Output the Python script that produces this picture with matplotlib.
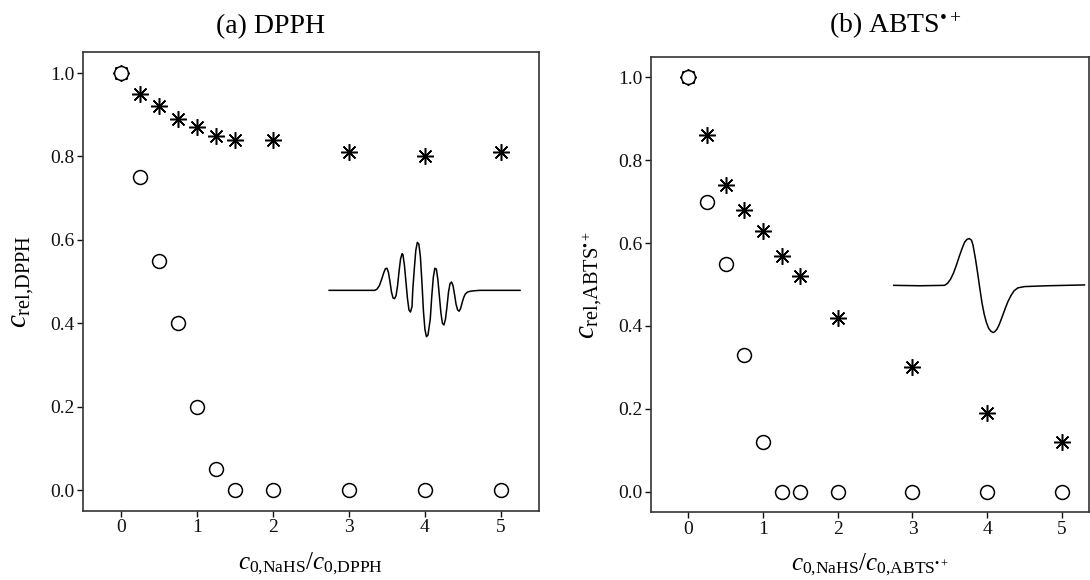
import matplotlib
matplotlib.use('Agg')
import matplotlib.pyplot as plt

plt.rcParams['font.family'] = ['Liberation Serif', 'DejaVu Serif']
plt.rcParams['mathtext.fontset'] = 'custom'
plt.rcParams['mathtext.rm'] = 'Liberation Serif'
plt.rcParams['mathtext.it'] = 'Liberation Serif:italic'
plt.rcParams['mathtext.bf'] = 'Liberation Serif:bold'

# (a) DPPH
dpph_circ_x = [0, 0.25, 0.5, 0.75, 1, 1.25, 1.5, 2, 3, 4, 5]
dpph_circ_y = [1.00, 0.75, 0.55, 0.40, 0.20, 0.05, 0.0, 0.0, 0.0, 0.0, 0.0]
dpph_star_x = [0, 0.25, 0.5, 0.75, 1, 1.25, 1.5, 2, 3, 4, 5]
dpph_star_y = [1.00, 0.95, 0.92, 0.89, 0.87, 0.85, 0.84, 0.84, 0.81, 0.80, 0.81]

# EPR spectrum inset (a) in data units
dpph_epr_x = [2.74, 3.34, 3.37, 3.40, 3.43, 3.46, 3.48, 3.50, 3.52, 3.54, 3.56, 3.58, 3.60, 3.62,
              3.64, 3.66, 3.68, 3.70, 3.71, 3.73, 3.75, 3.77, 3.79, 3.81, 3.83, 3.84, 3.86,
              3.88, 3.90, 3.92, 3.94, 3.96, 3.98, 4.00, 4.02, 4.04, 4.07, 4.09, 4.11, 4.13,
              4.15, 4.17, 4.19, 4.21, 4.23, 4.25, 4.27, 4.29, 4.31, 4.33, 4.35, 4.37, 4.39,
              4.41, 4.43, 4.45, 4.47, 4.49, 4.51, 4.53, 4.56, 4.60, 4.65, 4.72, 5.25]
dpph_epr_y = [0.479, 0.479, 0.482, 0.490, 0.505, 0.522, 0.531, 0.532, 0.522, 0.500, 0.475, 0.461, 0.459, 0.466,
              0.490, 0.525, 0.555, 0.567, 0.565, 0.540, 0.500, 0.460, 0.432, 0.427, 0.440, 0.480, 0.530,
              0.575, 0.594, 0.590, 0.560, 0.500, 0.430, 0.385, 0.368, 0.372, 0.410, 0.465, 0.510, 0.532,
              0.530, 0.505, 0.465, 0.425, 0.400, 0.396, 0.410, 0.440, 0.475, 0.495, 0.499, 0.490, 0.468,
              0.445, 0.432, 0.429, 0.436, 0.450, 0.462, 0.470, 0.475, 0.477, 0.478, 0.479, 0.479]

# (b) ABTS
abts_circ_x = [0, 0.25, 0.5, 0.75, 1, 1.25, 1.5, 2, 3, 4, 5]
abts_circ_y = [1.00, 0.70, 0.55, 0.33, 0.12, 0.0, 0.0, 0.0, 0.0, 0.0, 0.0]
abts_star_x = [0, 0.25, 0.5, 0.75, 1, 1.25, 1.5, 2, 3, 4, 5]
abts_star_y = [1.00, 0.86, 0.74, 0.68, 0.63, 0.57, 0.52, 0.42, 0.30, 0.19, 0.12]

abts_epr_x = [2.75, 3.10, 3.43, 3.47, 3.51, 3.55, 3.59, 3.63, 3.67, 3.70, 3.73, 3.76, 3.79, 3.81,
              3.84, 3.87, 3.90, 3.93, 3.96, 3.99, 4.02, 4.05, 4.08, 4.10, 4.13, 4.16, 4.20,
              4.24, 4.28, 4.32, 4.36, 4.41, 4.50, 4.80, 5.30]
abts_epr_y = [0.498, 0.497, 0.498, 0.503, 0.513, 0.528, 0.548, 0.570, 0.590, 0.603, 0.609, 0.611, 0.607, 0.595,
              0.565, 0.530, 0.492, 0.456, 0.428, 0.408, 0.394, 0.387, 0.384, 0.386, 0.392, 0.403, 0.422,
              0.442, 0.460, 0.474, 0.485, 0.492, 0.495, 0.497, 0.499]

xticks = [0, 1, 2, 3, 4, 5]
yticks = [0.0, 0.2, 0.4, 0.6, 0.8, 1.0]

fig = plt.figure(figsize=(10.9, 5.8), dpi=100)
ax1 = fig.add_axes([0.0759, 0.119, 0.4186, 0.791])
ax2 = fig.add_axes([0.597, 0.1167, 0.402, 0.7855])

star = (8, 2, 0)


def style_ax(ax, xmax):
    ax.set_xlim(-0.5, xmax)
    ax.set_ylim(-0.05, 1.05)
    ax.set_xticks(xticks)
    ax.set_yticks(yticks)
    ax.set_yticklabels(['%.1f' % v for v in yticks])
    ax.tick_params(direction='out', length=4, width=1, pad=2, labelsize=14, colors='#111111')
    for s in ax.spines.values():
        s.set_linewidth(1.2)
        s.set_color('#333333')


def draw(ax, sx, sy, cx, cy, ex, ey):
    ax.plot(ex, ey, color='black', lw=1.1, zorder=2)
    ax.plot(sx, sy, ls='none', marker=star, ms=12, mec='black', mew=1.1, zorder=3)
    ax.plot(cx, cy, ls='none', marker='o', ms=10, mfc='white', mec='black', mew=1.1, zorder=4)


draw(ax1, dpph_star_x, dpph_star_y, dpph_circ_x, dpph_circ_y, dpph_epr_x, dpph_epr_y)
draw(ax2, abts_star_x, abts_star_y, abts_circ_x, abts_circ_y, abts_epr_x, abts_epr_y)
style_ax(ax1, 5.5)
style_ax(ax2, 5.36)

ax1.set_ylabel(r'$c_{\mathrm{rel{,}DPPH}}$', fontsize=21, labelpad=10)
ax1.set_xlabel(r'$c_{\mathrm{0{,}NaHS}}/c_{\mathrm{0{,}DPPH}}$', fontsize=18, labelpad=10)
ax2.set_ylabel(r'$c_{\mathrm{rel{,}ABTS}^{\mathrm{•+}}}$', fontsize=21, labelpad=10)
ax2.set_xlabel(r'$c_{\mathrm{0{,}NaHS}}/c_{\mathrm{0{,}ABTS}^{\mathrm{•+}}}$', fontsize=18, labelpad=10)

fig.text(0.2486, 0.943, '(a) DPPH', ha='center', va='baseline', fontsize=20)
fig.text(0.821, 0.943, r'(b) ABTS$^{\mathrm{•+}}$', ha='center', va='baseline', fontsize=20)

fig.savefig('out.png', dpi=100)
